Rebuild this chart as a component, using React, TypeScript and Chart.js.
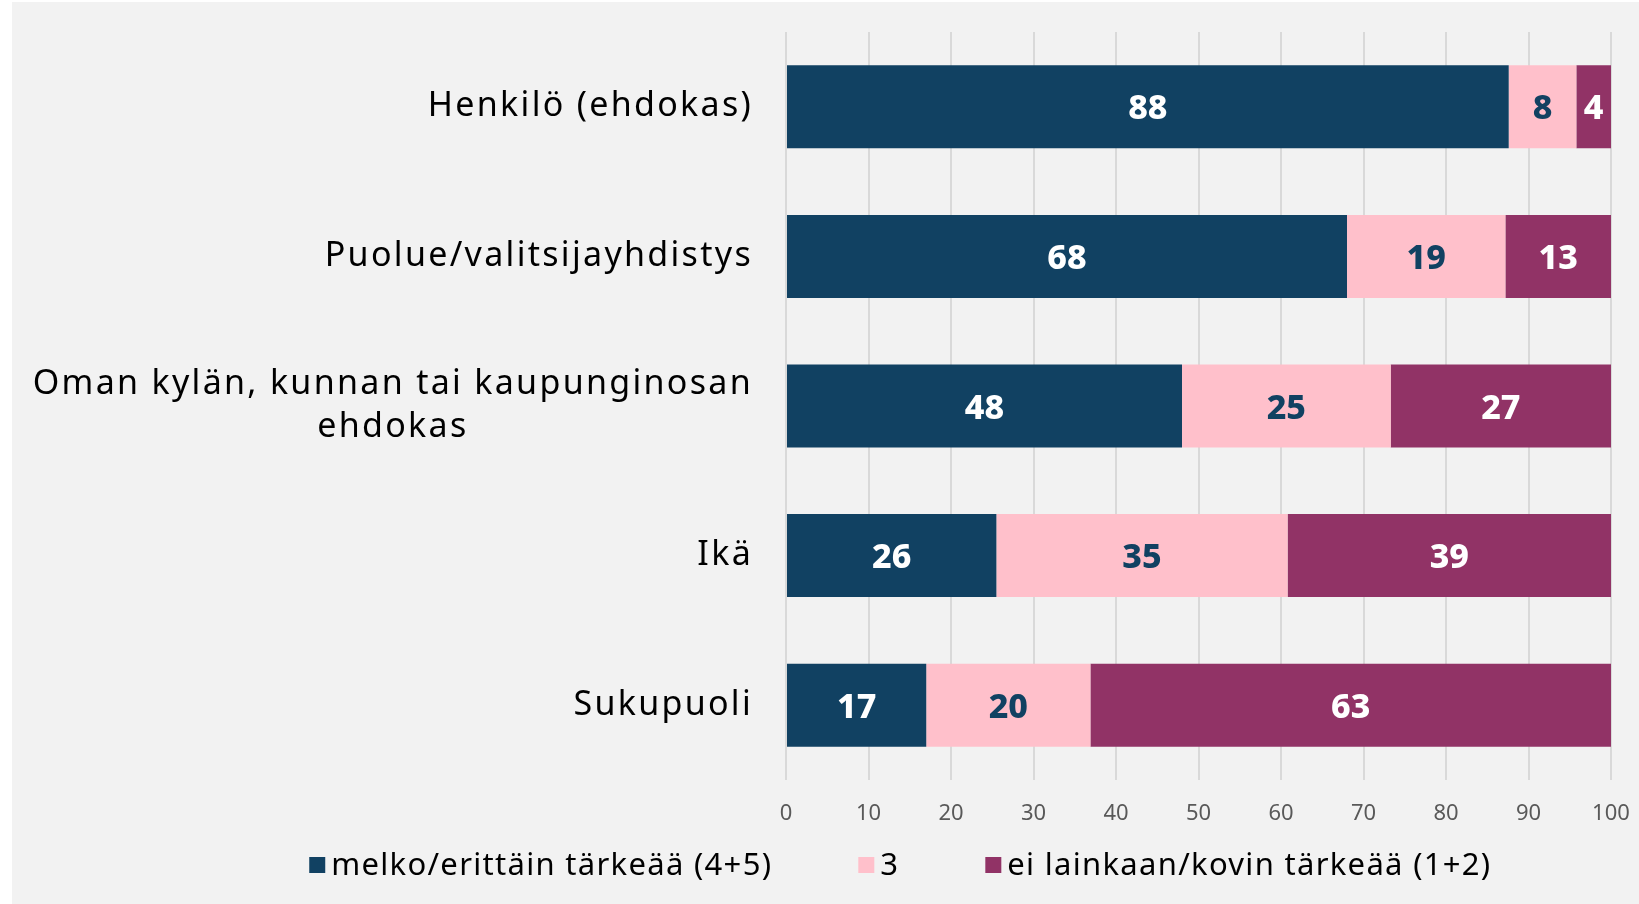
import React, { useEffect, useRef } from "react";
import { Chart, registerables } from "chart.js";

Chart.register(...registerables);

const categories: string[][] = [
  ["Henkilö (ehdokas)"],
  ["Puolue/valitsijayhdistys"],
  ["Oman kylän, kunnan tai kaupunginosan", "ehdokas"],
  ["Ikä"],
  ["Sukupuoli"],
];
const seriesNames = ["melko/erittäin tärkeää (4+5)", "3", "ei lainkaan/kovin tärkeää (1+2)"];
const important = [87.6, 68.0, 48.0, 25.5, 17.0];
const neutral = [8.2, 19.2, 25.3, 35.3, 19.9];
const notImportant = [4.2, 12.8, 26.7, 39.2, 63.1];
const xTickValues = [0, 10, 20, 30, 40, 50, 60, 70, 80, 90, 100];

const COLORS = ["#114162", "#ffc0cb", "#913366"];
const LABEL_COLORS = ["#ffffff", "#114162", "#ffffff"];
const FONT = "'Noto Sans', 'Open Sans', sans-serif";

const yLabelPlugin = {
  id: "yLabels",
  afterDraw(chart: any) {
    const ctx = chart.ctx;
    const yScale = chart.scales.y;
    const right = chart.chartArea.left - 33;
    ctx.save();
    ctx.font = `34px ${FONT}`;
    (ctx as any).letterSpacing = "2.3px";
    ctx.fillStyle = "#000000";
    ctx.textAlign = "center";
    ctx.textBaseline = "middle";
    const lineH = 43;
    (chart.data.labels as string[][]).forEach((lines, i) => {
      const y = yScale.getPixelForValue(i);
      const widest = Math.max(...lines.map((l) => ctx.measureText(l).width));
      const cx = right - widest / 2;
      const startY = y - ((lines.length - 1) * lineH) / 2;
      lines.forEach((l, j) => ctx.fillText(l, cx, startY + j * lineH));
    });
    ctx.restore();
  },
};

const dataLabelPlugin = {
  id: "dataLabels",
  afterDatasetsDraw(chart: any) {
    const ctx = chart.ctx;
    ctx.save();
    ctx.font = `800 34px ${FONT}`;
    ctx.textAlign = "center";
    ctx.textBaseline = "middle";
    chart.data.datasets.forEach((ds: any, di: number) => {
      const meta = chart.getDatasetMeta(di);
      ctx.fillStyle = LABEL_COLORS[di];
      meta.data.forEach((el: any, i: number) => {
        const v = ds.data[i];
        const cx = (el.x + el.base) / 2;
        ctx.fillText(String(Math.round(v)), cx, el.y + 3);
      });
    });
    ctx.restore();
  },
};

const legendPlugin = {
  id: "customLegend",
  afterDraw(chart: any) {
    const ctx = chart.ctx;
    ctx.save();
    ctx.font = `31px ${FONT}`;
    (ctx as any).letterSpacing = "1.3px";
    ctx.textBaseline = "middle";
    ctx.textAlign = "left";
    const box = 16;
    const boxGap = 6;
    const itemGap = 86;
    const widths = seriesNames.map((n) => box + boxGap + ctx.measureText(n).width);
    const total = widths.reduce((a, b) => a + b, 0) + itemGap * (seriesNames.length - 1);
    const centerX = chart.width * 0.546;
    const y = chart.height - 39;
    let x = centerX - total / 2;
    seriesNames.forEach((n, i) => {
      ctx.fillStyle = COLORS[i];
      ctx.fillRect(x, y - box / 2, box, box);
      ctx.fillStyle = "#000000";
      ctx.fillText(n, x + box + boxGap, y + 1);
      x += widths[i] + itemGap;
    });
    ctx.restore();
  },
};

export default function App() {
  const canvasRef = useRef<HTMLCanvasElement | null>(null);

  useEffect(() => {
    if (!canvasRef.current) return;
    const data = [important, neutral, notImportant];
    const chart = new Chart(canvasRef.current, {
      type: "bar",
      data: {
        labels: categories as any,
        datasets: seriesNames.map((name, i) => ({
          label: name,
          data: data[i],
          backgroundColor: COLORS[i],
          borderWidth: 0,
          barPercentage: 0.555,
          categoryPercentage: 1,
        })),
      },
      options: {
        indexAxis: "y",
        responsive: false,
        animation: false,
        layout: { padding: { top: 30, right: 28, left: 0, bottom: 0 } },
        plugins: {
          legend: { display: false },
          tooltip: { enabled: false },
        },
        scales: {
          x: {
            stacked: true,
            min: 0,
            max: 100,
            afterBuildTicks(scale: any) {
              scale.ticks = xTickValues.map((v) => ({ value: v }));
            },
            afterFit(scale: any) {
              scale.height = 124;
              scale.paddingLeft = 0;
              scale.paddingRight = 0;
            },
            grid: { color: "#d9d9d9", lineWidth: 2, drawTicks: false },
            border: { display: false },
            ticks: {
              font: { family: FONT, size: 22 },
              color: "#595959",
              padding: 21,
            },
          },
          y: {
            stacked: true,
            afterFit(scale: any) {
              scale.width = 774;
            },
            grid: { display: false },
            border: { display: false },
            ticks: { display: false },
          },
        },
      },
      plugins: [yLabelPlugin, dataLabelPlugin, legendPlugin],
    });
    return () => chart.destroy();
  }, []);

  return (
    <div
      style={{
        position: "absolute",
        left: 12,
        top: 2,
        width: 1627,
        height: 902,
        background: "#f2f2f2",
      }}
    >
      <canvas ref={canvasRef} width={1627} height={902} style={{ display: "block" }} />
    </div>
  );
}
